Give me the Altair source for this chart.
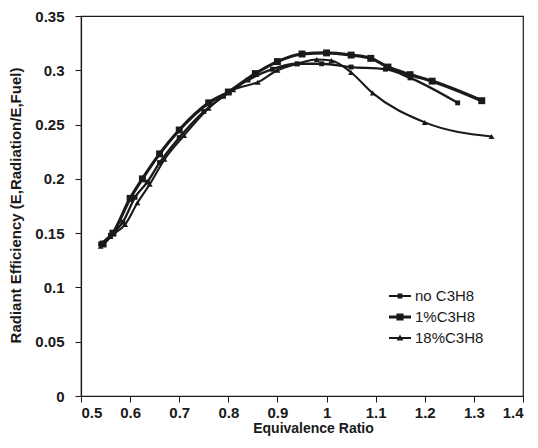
import altair as alt
import pandas as pd

series_names = ["no C3H8", "1%C3H8", "18%C3H8"]

no_x = [0.54, 0.56, 0.585, 0.61, 0.635, 0.66, 0.70, 0.75, 0.79, 0.84, 0.89, 0.94, 0.99, 1.05, 1.12, 1.17, 1.267]
no_y = [0.140, 0.148, 0.160, 0.183, 0.197, 0.215, 0.238, 0.262, 0.276, 0.291, 0.301, 0.306, 0.306, 0.303, 0.301, 0.293, 0.270]

one_x = [0.545, 0.565, 0.60, 0.625, 0.66, 0.70, 0.76, 0.80, 0.855, 0.90, 0.95, 1.00, 1.05, 1.09, 1.125, 1.17, 1.215, 1.316]
one_y = [0.140, 0.150, 0.182, 0.200, 0.223, 0.245, 0.270, 0.280, 0.297, 0.308, 0.315, 0.316, 0.314, 0.311, 0.303, 0.296, 0.290, 0.272]

tri_x = [0.54, 0.56, 0.59, 0.615, 0.64, 0.67, 0.71, 0.76, 0.81, 0.86, 0.90, 0.94, 0.98, 1.01, 1.05, 1.094, 1.20, 1.336]
tri_y = [0.138, 0.147, 0.158, 0.178, 0.195, 0.218, 0.240, 0.265, 0.282, 0.289, 0.300, 0.306, 0.310, 0.309, 0.298, 0.279, 0.252, 0.239]

x_ticks = [0.5, 0.6, 0.7, 0.8, 0.9, 1.0, 1.1, 1.2, 1.3, 1.4]
y_ticks = [0, 0.05, 0.1, 0.15, 0.2, 0.25, 0.3, 0.35]

rows = []
for name, xs, ys in zip(series_names, [no_x, one_x, tri_x], [no_y, one_y, tri_y]):
    for i, (a, b) in enumerate(zip(xs, ys)):
        rows.append({"series": name, "phi": a, "eff": b, "order": i})
df = pd.DataFrame(rows)

FONT = "Liberation Sans"
INK = "#1a1a1a"

xenc = alt.X("phi:Q", scale=alt.Scale(domain=[0.5, 1.4], nice=False, zero=False),
             axis=alt.Axis(values=x_ticks, format="~g", title="Equivalence Ratio",
                           titleX=232, titleY=25, titleBaseline="top", titleFontSize=14))
yenc = alt.Y("eff:Q", scale=alt.Scale(domain=[0, 0.35], nice=False),
             axis=alt.Axis(values=y_ticks, format="~g",
                           title="Radiant Efficiency (E,Radiation/E,Fuel)",
                           titleX=-65.5, titleY=189, titleBaseline="middle", titleFontSize=15,
                           labelPadding=11))

base = alt.Chart(df)

def sel(name):
    return base.transform_filter(alt.datum.series == name)

line_widths = {"no C3H8": 2.3, "1%C3H8": 3.2, "18%C3H8": 2.1}
layers = []
for name in series_names:
    layers.append(sel(name).mark_line(interpolate="monotone", color=INK,
                                      strokeWidth=line_widths[name])
                  .encode(x=xenc, y=yenc, order="order:Q"))

layers.append(sel("no C3H8").mark_point(shape="square", filled=True, size=24, color=INK, opacity=1)
              .encode(x=xenc, y=yenc))
layers.append(sel("1%C3H8").mark_point(shape="square", filled=True, size=48, color=INK, opacity=1)
              .encode(x=xenc, y=yenc))
layers.append(sel("18%C3H8").mark_point(shape="triangle-up", filled=True, size=34, color=INK, opacity=1)
              .encode(x=xenc, y=yenc))

legend_paths = [
    "M-1,-0.09H1V0.09H-1ZM-0.22,-0.22H0.22V0.22H-0.22Z",
    "M-1,-0.13H1V0.13H-1ZM-0.32,-0.32H0.32V0.32H-0.32Z",
    "M-1,-0.08H1V0.08H-1ZM0,-0.32L0.3,0.22H-0.3Z",
]
legend_layer = base.transform_filter("datum.eff < 0").mark_point(
    filled=True, fill=INK, opacity=1
).encode(
    x=xenc, y=yenc,
    shape=alt.Shape("series:N", scale=alt.Scale(domain=series_names, range=legend_paths),
                    legend=alt.Legend(
                        title=None, orient="none", legendX=308, legendY=269,
                        symbolSize=484, symbolFillColor=INK,
                        symbolStrokeWidth=0, symbolOpacity=1,
                        labelFont=FONT, labelFontSize=15, labelColor=INK,
                        labelOffset=4, rowPadding=2, padding=0)),
)
layers.append(legend_layer)

chart = alt.layer(*layers).properties(
    width=442, height=380,
    autosize=alt.AutoSizeParams(type="none"),
    padding={"left": 73, "top": 8, "right": 7, "bottom": 44},
).configure_view(
    stroke=INK, strokeWidth=1.2
).configure_axis(
    grid=False, domainColor=INK, tickColor=INK, tickSize=6, domainWidth=1.2,
    labelFont=FONT, labelFontSize=15, labelFontWeight="bold", labelColor=INK,
    titleFont=FONT, titleFontWeight="bold", titleColor=INK,
).configure_axisX(labelPadding=3)

chart.save("out.html", embed_options={"renderer": "svg", "actions": False})
